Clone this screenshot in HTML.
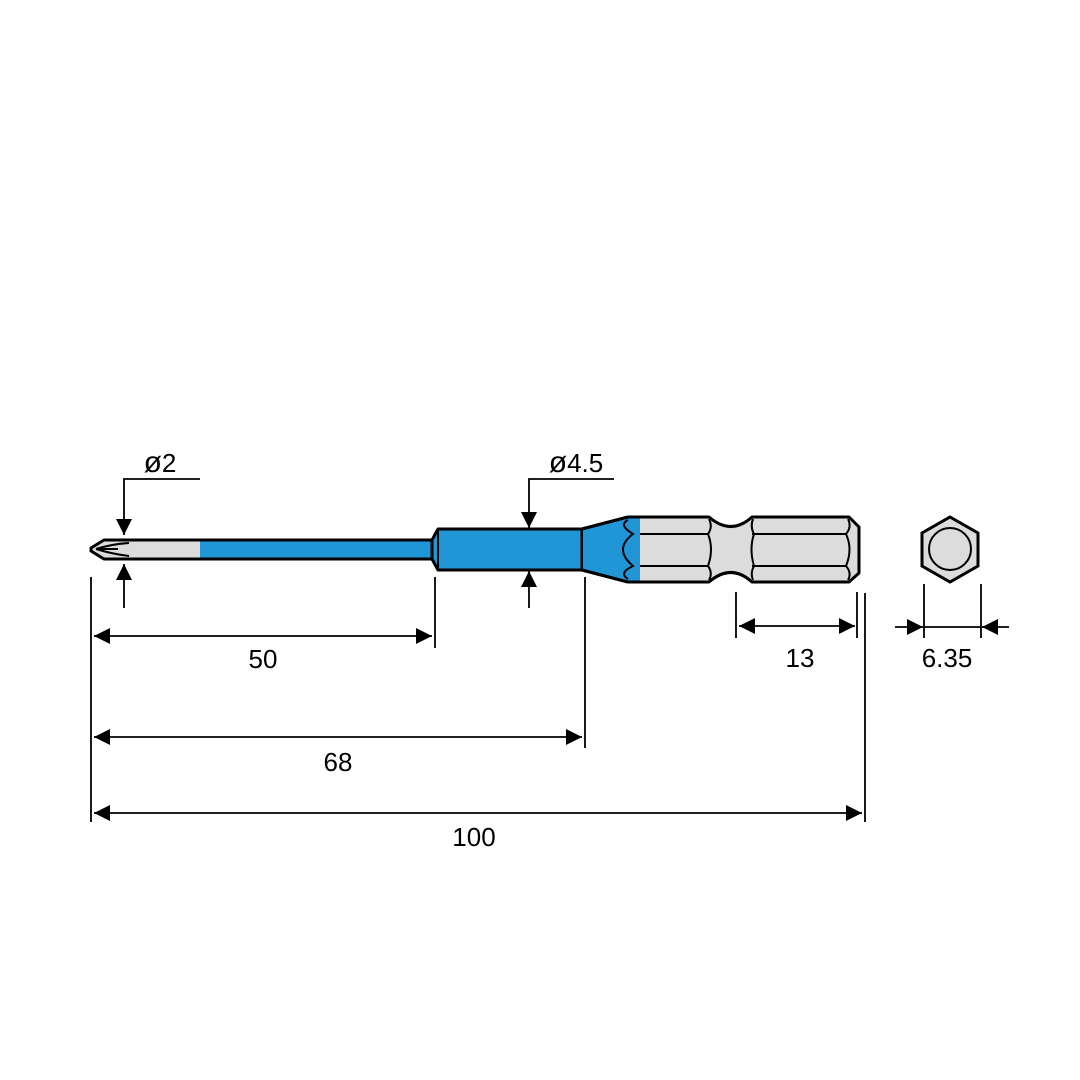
<!DOCTYPE html>
<html><head><style>html,body{margin:0;padding:0;background:#fff}svg{display:block}</style></head>
<body>
<svg width="1080" height="1080" viewBox="0 0 1080 1080" xmlns="http://www.w3.org/2000/svg" font-family="Liberation Sans, sans-serif">
<defs>
<marker id="a" viewBox="0 0 16 16" refX="16" refY="8" markerWidth="16" markerHeight="16" markerUnits="userSpaceOnUse" orient="auto"><path d="M0,0L16,8L0,16z" fill="#000"/></marker>
</defs>
<g stroke="#000" stroke-width="3" stroke-linejoin="round">
<rect x="200" y="540" width="232" height="19" fill="#2196d6" stroke="none"/>
<path d="M104,540 L200,540 L200,559 L104,559 L91,551 L91,548 Z" fill="#dcdcdc" stroke="none"/>
<path d="M104,540 L432,540 L432,559 L104,559 L91,551 L91,548 Z" fill="none"/>
<path d="M432,540 L438,529 L582,529 L582,570 L438,570 L432,559 Z" fill="#2196d6"/>
<path d="M582,529 L628,517 L709,517 Q731,536 752,517 L849,517 L859,527 L859,573 L849,582 L752,582 Q731,563 709,582 L628,582 L582,570 Z" fill="#dcdcdc"/>
<path d="M582,529 L628,517 L640,517 L640,582 L628,582 L582,570 Z" fill="#2196d6" stroke="none"/>
<path d="M582,529 L628,517 M582,570 L628,582 M628,517 L640,517 M628,582 L640,582" fill="none"/>
</g>
<g stroke="#000" stroke-width="2" fill="none">
<path d="M438,529 L438,570 M432,540 L432,559 M582,529 L582,570"/>
<path d="M96,549 Q112,544 129,543 M96,549 Q112,554 129,556 M98,549 L118,549"/>
<path d="M640,534 L709,534 M640,566 L709,566 M752,534 L846,534 M752,566 L846,566"/>
<path d="M628,520 Q618,525 633,534 Q613,549 633,566 Q618,573 628,579"/>
<path d="M709,519 Q713,527 708,534 Q714,549 708,566 Q713,573 709,580"/>
<path d="M753,519 Q750,527 754,534 Q749,549 754,566 Q750,573 753,580"/>
<path d="M848,519 Q852,527 846,534 Q853,549 846,566 Q852,573 848,580"/>
</g>
<polygon points="950,517 978,533 978,566 950,582 922,566 922,533" fill="#dcdcdc" stroke="#000" stroke-width="3"/>
<circle cx="950" cy="549" r="21" fill="#dcdcdc" stroke="#000" stroke-width="2"/>
<g stroke="#000" stroke-width="1.8" fill="none">
<path d="M91,577 V822 M435,577 V648 M585,577 V748 M865,593 V822 M736,592 V638 M857,592 V638 M924,584 V638 M981,584 V638"/>
<path d="M200,479 H124 V535" marker-end="url(#a)"/>
<path d="M124,608 V564" marker-end="url(#a)"/>
<path d="M614,479 H529 V528" marker-end="url(#a)"/>
<path d="M529,608 V571" marker-end="url(#a)"/>
<path d="M263,636 H94" marker-end="url(#a)"/><path d="M263,636 H432" marker-end="url(#a)"/>
<path d="M338,737 H94" marker-end="url(#a)"/><path d="M338,737 H582" marker-end="url(#a)"/>
<path d="M478,813 H94" marker-end="url(#a)"/><path d="M478,813 H862" marker-end="url(#a)"/>
<path d="M797,626 H739" marker-end="url(#a)"/><path d="M797,626 H855" marker-end="url(#a)"/>
<path d="M895,627 H923" marker-end="url(#a)"/><path d="M1009,627 H982" marker-end="url(#a)"/>
<path d="M924,627 H981"/>
</g>
<g font-size="26" fill="#000" text-anchor="middle">
<text x="160" y="472"><tspan font-size="30">ø</tspan>2</text>
<text x="576" y="472"><tspan font-size="30">ø</tspan>4.5</text>
<text x="263" y="668">50</text>
<text x="338" y="771">68</text>
<text x="474" y="846">100</text>
<text x="800" y="667">13</text>
<text x="947" y="667">6.35</text>
</g>
</svg>
</body></html>
